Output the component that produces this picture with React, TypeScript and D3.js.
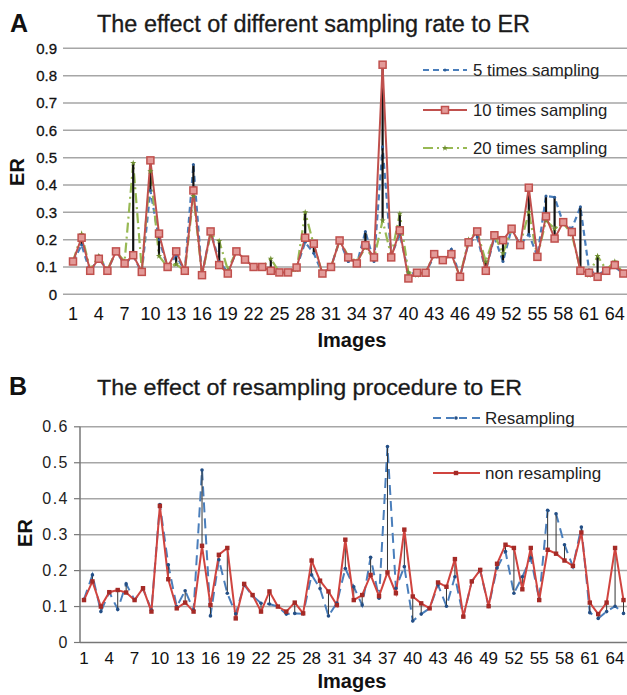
import { useEffect, useRef } from 'react'
import * as d3 from 'd3'

// x categories (images 1..65)
const images = d3.range(1, 66)
const tickImagesA = d3.range(1, 66, 3)

// Panel A: ER by sampling rate
const fiveTimes = [
  0.12, 0.18, 0.08, 0.14, 0.086, 0.157, 0.11, 0.14, 0.08, 0.38,
  0.2, 0.1, 0.14, 0.086, 0.475, 0.07, 0.23, 0.12, 0.08, 0.157,
  0.127, 0.1, 0.1, 0.086, 0.08, 0.08, 0.098, 0.19, 0.15, 0.076,
  0.1, 0.197, 0.12, 0.11, 0.23, 0.12, 0.54, 0.14, 0.22, 0.08,
  0.075, 0.079, 0.14, 0.125, 0.165, 0.064, 0.19, 0.21, 0.086, 0.21,
  0.12, 0.24, 0.18, 0.22, 0.14, 0.36, 0.355, 0.26, 0.24, 0.32,
  0.09, 0.07, 0.09, 0.1, 0.076
]
const tenTimes = [
  0.12, 0.207, 0.086, 0.13, 0.086, 0.157, 0.113, 0.143, 0.082, 0.49,
  0.222, 0.1, 0.157, 0.086, 0.38, 0.07, 0.23, 0.107, 0.076, 0.157,
  0.127, 0.1, 0.1, 0.086, 0.08, 0.08, 0.098, 0.207, 0.185, 0.076,
  0.1, 0.197, 0.135, 0.113, 0.18, 0.135, 0.84, 0.135, 0.234, 0.058,
  0.079, 0.079, 0.147, 0.125, 0.147, 0.064, 0.19, 0.23, 0.086, 0.216,
  0.198, 0.24, 0.18, 0.39, 0.137, 0.285, 0.204, 0.264, 0.228, 0.086,
  0.079, 0.064, 0.086, 0.107, 0.076
]
const twentyTimes = [
  0.12, 0.22, 0.09, 0.14, 0.09, 0.157, 0.12, 0.48, 0.09, 0.45,
  0.14, 0.1, 0.11, 0.086, 0.36, 0.07, 0.22, 0.195, 0.09, 0.157,
  0.127, 0.1, 0.1, 0.13, 0.08, 0.08, 0.09, 0.3, 0.18, 0.076,
  0.1, 0.197, 0.14, 0.12, 0.17, 0.13, 0.27, 0.14, 0.295, 0.08,
  0.07, 0.079, 0.147, 0.125, 0.147, 0.064, 0.2, 0.23, 0.12, 0.216,
  0.15, 0.24, 0.18, 0.3, 0.137, 0.27, 0.24, 0.26, 0.22, 0.09,
  0.07, 0.14, 0.09, 0.12, 0.076
]

// Panel B: ER with / without resampling
const resampling = [
  0.12, 0.188, 0.086, 0.14, 0.092, 0.163, 0.118, 0.15, 0.09, 0.384,
  0.216, 0.1, 0.144, 0.09, 0.48, 0.074, 0.23, 0.137, 0.08, 0.16,
  0.13, 0.109, 0.107, 0.1, 0.079, 0.081, 0.08, 0.188, 0.15, 0.074,
  0.11, 0.206, 0.155, 0.104, 0.237, 0.123, 0.545, 0.151, 0.211, 0.06,
  0.079, 0.095, 0.16, 0.101, 0.183, 0.072, 0.17, 0.2, 0.1, 0.207,
  0.253, 0.137, 0.183, 0.235, 0.12, 0.368, 0.358, 0.272, 0.211, 0.321,
  0.083, 0.067, 0.086, 0.101, 0.081
]
const nonResampling = [
  0.118, 0.17, 0.1, 0.14, 0.146, 0.139, 0.118, 0.151, 0.086, 0.38,
  0.176, 0.095, 0.111, 0.086, 0.269, 0.104, 0.244, 0.263, 0.067, 0.163,
  0.132, 0.086, 0.142, 0.1, 0.086, 0.111, 0.081, 0.228, 0.172, 0.142,
  0.104, 0.286, 0.118, 0.132, 0.188, 0.129, 0.195, 0.137, 0.314, 0.128,
  0.109, 0.095, 0.167, 0.155, 0.232, 0.072, 0.17, 0.202, 0.101, 0.219,
  0.272, 0.263, 0.148, 0.263, 0.118, 0.258, 0.247, 0.228, 0.213, 0.306,
  0.111, 0.079, 0.111, 0.263, 0.118
]

const ticksA = [0, 0.1, 0.2, 0.3, 0.4, 0.5, 0.6, 0.7, 0.8, 0.9]
const ticksB = [0, 0.1, 0.2, 0.3, 0.4, 0.5, 0.6]

const BLUE = '#4a7ebb'
const RED = '#c0504d'
const GREEN = '#98b954'
const GRID = '#a6a6a6'
const FONT = "'Liberation Sans', Arial, sans-serif"

const App = () => {
  const chart = useRef(null)

  useEffect(() => {
    const root = d3.select(chart.current)
    root.selectAll('*').remove()
    const svg = root.append('svg')
      .attr('width', 627)
      .attr('height', 695)
      .style('position', 'absolute')
      .style('left', 0)
      .style('top', 0)
      .style('font-family', FONT)
    svg.append('rect').attr('width', 627).attr('height', 695).attr('fill', '#fff')

    // ---------- Panel A ----------
    const xA = d3.scalePoint().domain(images).range([73, 623.4])
    const yA = d3.scaleLinear().domain([0, 0.9]).range([294.3, 48.3])
    const gA = svg.append('g')

    gA.selectAll('line.grid').data(ticksA).enter().append('line')
      .attr('x1', 63).attr('x2', 627)
      .attr('y1', d => yA(d)).attr('y2', d => yA(d))
      .attr('stroke', GRID).attr('stroke-width', 1.5)
    gA.selectAll('text.ytick').data(ticksA).enter().append('text')
      .attr('x', 57).attr('y', d => yA(d)).attr('dy', '0.35em')
      .attr('text-anchor', 'end').attr('font-size', 15).attr('fill', '#111')
      .attr('stroke', '#111').attr('stroke-width', 0.3)
      .text(d => d === 0 ? '0' : d.toFixed(1))
    gA.selectAll('text.xtick').data(tickImagesA).enter().append('text')
      .attr('x', d => xA(d)).attr('y', 320)
      .attr('text-anchor', 'middle').attr('font-size', 18).attr('fill', '#111')
      .text(d => d)

    const lineA = (vals) => d3.line().x((_, i) => xA(images[i])).y(d => yA(d))(vals)

    gA.append('path').attr('d', lineA(fiveTimes)).attr('fill', 'none')
      .attr('stroke', BLUE).attr('stroke-width', 2.2).attr('stroke-dasharray', '6,4')
    gA.append('path').attr('d', lineA(twentyTimes)).attr('fill', 'none')
      .attr('stroke', GREEN).attr('stroke-width', 2.2).attr('stroke-dasharray', '10,4,2,4')

    // high-low lines
    gA.selectAll('line.hl').data(images).enter().append('line')
      .attr('x1', d => xA(d)).attr('x2', d => xA(d))
      .attr('y1', (_, i) => yA(Math.max(fiveTimes[i], tenTimes[i], twentyTimes[i])))
      .attr('y2', (_, i) => yA(Math.min(fiveTimes[i], tenTimes[i], twentyTimes[i])))
      .attr('stroke', '#111').attr('stroke-width', 2.2)

    gA.append('path').attr('d', lineA(tenTimes)).attr('fill', 'none')
      .attr('stroke', RED).attr('stroke-width', 2)

    gA.selectAll('circle.b').data(fiveTimes).enter().append('circle')
      .attr('cx', (_, i) => xA(images[i])).attr('cy', d => yA(d)).attr('r', 1.5)
      .attr('fill', '#2f5f9a')
    gA.selectAll('path.g').data(twentyTimes).enter().append('path')
      .attr('d', d3.symbol(d3.symbolStar, 12))
      .attr('transform', (d, i) => `translate(${xA(images[i])},${yA(d)})`)
      .attr('fill', '#6f8f30')
    gA.selectAll('rect.r').data(tenTimes).enter().append('rect')
      .attr('x', (_, i) => xA(images[i]) - 3.5).attr('y', d => yA(d) - 3.5)
      .attr('width', 7).attr('height', 7)
      .attr('fill', '#e39a98').attr('stroke', RED).attr('stroke-width', 1.5)

    // legend A
    const legA = [
      { label: '5 times sampling', y: 70, color: BLUE, dash: '6,4', mark: 'dot' },
      { label: '10 times sampling', y: 110, color: RED, dash: null, mark: 'square' },
      { label: '20 times sampling', y: 148, color: GREEN, dash: '10,4,2,4', mark: 'star' }
    ]
    legA.forEach(l => {
      gA.append('line').attr('x1', 423).attr('x2', 467).attr('y1', l.y).attr('y2', l.y)
        .attr('stroke', l.color).attr('stroke-width', 2)
        .attr('stroke-dasharray', l.dash)
      if (l.mark === 'square') {
        gA.append('rect').attr('x', 441.5).attr('y', l.y - 3.5).attr('width', 7).attr('height', 7)
          .attr('fill', '#e39a98').attr('stroke', RED).attr('stroke-width', 1.5)
      } else if (l.mark === 'dot') {
        gA.append('circle').attr('cx', 445).attr('cy', l.y).attr('r', 1.5).attr('fill', '#2f5f9a')
      } else {
        gA.append('path').attr('d', d3.symbol(d3.symbolStar, 12))
          .attr('transform', `translate(445,${l.y})`).attr('fill', '#6f8f30')
      }
      gA.append('text').attr('x', 473).attr('y', l.y).attr('dy', '0.35em')
        .attr('font-size', 17).attr('fill', '#222')
        .attr('textLength', l.label.length * 7.9).attr('lengthAdjust', 'spacingAndGlyphs')
        .text(l.label)
    })

    gA.append('text').attr('x', 10).attr('y', 32).attr('font-size', 25)
      .attr('font-weight', 'bold').attr('fill', '#111').text('A')
    gA.append('text').attr('x', 97).attr('y', 32).attr('font-size', 23)
      .attr('textLength', 433).attr('lengthAdjust', 'spacingAndGlyphs')
      .attr('fill', '#1a1a1a').attr('stroke', '#1a1a1a').attr('stroke-width', 0.3)
      .text('The effect of different sampling rate to ER')
    gA.append('text').attr('transform', 'translate(24,172) rotate(-90)')
      .attr('text-anchor', 'middle').attr('font-size', 20).attr('font-weight', 'bold')
      .attr('fill', '#111').text('ER')
    gA.append('text').attr('x', 352).attr('y', 347).attr('text-anchor', 'middle')
      .attr('font-size', 20).attr('font-weight', 'bold').attr('fill', '#111').text('Images')

    // ---------- Panel B ----------
    const xB = d3.scalePoint().domain(images).range([84, 623.5])
    const yB = d3.scaleLinear().domain([0, 0.6]).range([642.5, 426.8])
    const gB = svg.append('g')

    gB.selectAll('line.grid').data(ticksB).enter().append('line')
      .attr('x1', 80).attr('x2', 627)
      .attr('y1', d => yB(d)).attr('y2', d => yB(d))
      .attr('stroke', d => d === 0 ? '#777' : GRID).attr('stroke-width', 1.5)
    gB.selectAll('line.ytk').data(ticksB).enter().append('line')
      .attr('x1', 74).attr('x2', 80)
      .attr('y1', d => yB(d)).attr('y2', d => yB(d))
      .attr('stroke', '#777').attr('stroke-width', 1.2)
    gB.append('line').attr('x1', 80).attr('x2', 80).attr('y1', yB(0.6)).attr('y2', yB(0))
      .attr('stroke', '#777').attr('stroke-width', 1.5)
    gB.selectAll('text.ytick').data(ticksB).enter().append('text')
      .attr('x', 69).attr('y', d => yB(d)).attr('dy', '0.35em')
      .attr('text-anchor', 'end').attr('font-size', 16).attr('fill', '#222')
      .attr('letter-spacing', 1.5)
      .text(d => d === 0 ? '0' : d.toFixed(1))
    gB.selectAll('text.xtick').data(tickImagesA).enter().append('text')
      .attr('x', d => xB(d)).attr('y', 664)
      .attr('text-anchor', 'middle').attr('font-size', 17).attr('fill', '#111')
      .text(d => d)

    const lineB = (vals) => d3.line().x((_, i) => xB(images[i])).y(d => yB(d))(vals)

    gB.append('path').attr('d', lineB(resampling)).attr('fill', 'none')
      .attr('stroke', BLUE).attr('stroke-width', 2).attr('stroke-dasharray', '10,6')
    gB.selectAll('line.hl').data(images).enter().append('line')
      .attr('x1', d => xB(d)).attr('x2', d => xB(d))
      .attr('y1', (_, i) => yB(Math.max(resampling[i], nonResampling[i])))
      .attr('y2', (_, i) => yB(Math.min(resampling[i], nonResampling[i])))
      .attr('stroke', '#333').attr('stroke-width', 1)
    gB.append('path').attr('d', lineB(nonResampling)).attr('fill', 'none')
      .attr('stroke', '#d0443f').attr('stroke-width', 2)
    gB.selectAll('circle.b').data(resampling).enter().append('circle')
      .attr('cx', (_, i) => xB(images[i])).attr('cy', d => yB(d)).attr('r', 1.8)
      .attr('fill', '#244f86')
    gB.selectAll('rect.r').data(nonResampling).enter().append('rect')
      .attr('x', (_, i) => xB(images[i]) - 2.2).attr('y', d => yB(d) - 2.2)
      .attr('width', 4.4).attr('height', 4.4).attr('fill', '#a52a26')

    // legend B
    gB.append('line').attr('x1', 433).attr('x2', 480).attr('y1', 418).attr('y2', 418)
      .attr('stroke', BLUE).attr('stroke-width', 2).attr('stroke-dasharray', '8,5')
    gB.append('circle').attr('cx', 456).attr('cy', 418).attr('r', 1.8).attr('fill', '#244f86')
    gB.append('text').attr('x', 485).attr('y', 418).attr('dy', '0.35em')
      .attr('font-size', 17).attr('fill', '#222').text('Resampling')
    gB.append('line').attr('x1', 433).attr('x2', 480).attr('y1', 473).attr('y2', 473)
      .attr('stroke', '#d0443f').attr('stroke-width', 2)
    gB.append('rect').attr('x', 453.8).attr('y', 470.8).attr('width', 4.4).attr('height', 4.4)
      .attr('fill', '#a52a26')
    gB.append('text').attr('x', 485).attr('y', 473).attr('dy', '0.35em')
      .attr('font-size', 17).attr('fill', '#222').text('non resampling')

    gB.append('text').attr('x', 9).attr('y', 395).attr('font-size', 25)
      .attr('font-weight', 'bold').attr('fill', '#111').text('B')
    gB.append('text').attr('x', 97).attr('y', 395).attr('font-size', 22)
      .attr('textLength', 425).attr('lengthAdjust', 'spacingAndGlyphs')
      .attr('fill', '#1a1a1a').attr('stroke', '#1a1a1a').attr('stroke-width', 0.3)
      .text('The effect of resampling procedure to ER')
    gB.append('text').attr('transform', 'translate(32,533) rotate(-90)')
      .attr('text-anchor', 'middle').attr('font-size', 20).attr('font-weight', 'bold')
      .attr('fill', '#111').text('ER')
    gB.append('text').attr('x', 352).attr('y', 688).attr('text-anchor', 'middle')
      .attr('font-size', 20).attr('font-weight', 'bold').attr('fill', '#111').text('Images')
  }, [])

  return (
    <div ref={chart}></div>
  )
}

export default App
